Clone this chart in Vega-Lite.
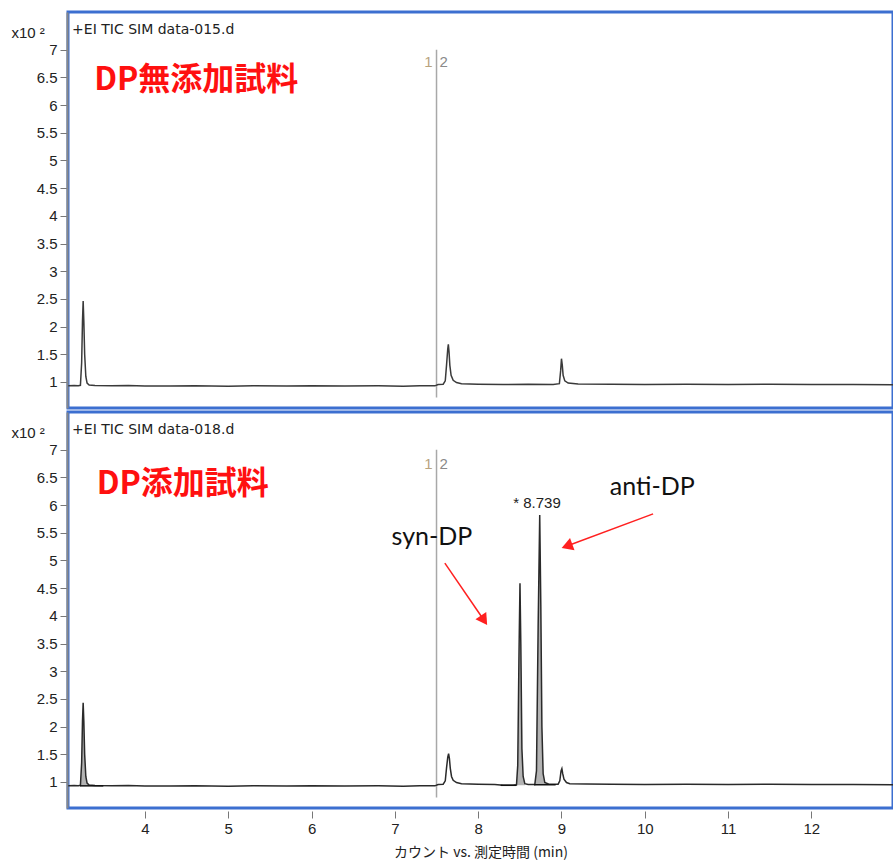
{
  "$schema": "https://vega.github.io/schema/vega-lite/v6.json",
  "padding": {"left": 9, "top": 10, "right": 0, "bottom": 0},
  "background": "white",
  "config": {
    "view": {"stroke": "#3c6fd0", "strokeWidth": 3},
    "font": "Liberation Sans",
    "axis": {"grid": false}
  },
  "datasets": {
    "topTrace": [
      {"t": 3.08, "v": 0.93}, {"t": 3.15, "v": 0.935}, {"t": 3.2, "v": 0.93}, {"t": 3.225, "v": 0.94},
      {"t": 3.24, "v": 1.35}, {"t": 3.25, "v": 2.1}, {"t": 3.258, "v": 2.46}, {"t": 3.266, "v": 2.1},
      {"t": 3.276, "v": 1.5}, {"t": 3.29, "v": 1.1}, {"t": 3.305, "v": 0.98}, {"t": 3.33, "v": 0.945},
      {"t": 3.4, "v": 0.935}, {"t": 3.6, "v": 0.93}, {"t": 3.8, "v": 0.937}, {"t": 4.0, "v": 0.928},
      {"t": 4.3, "v": 0.925}, {"t": 4.6, "v": 0.932}, {"t": 5.0, "v": 0.924}, {"t": 5.3, "v": 0.93},
      {"t": 5.7, "v": 0.925}, {"t": 6.0, "v": 0.932}, {"t": 6.4, "v": 0.925}, {"t": 6.8, "v": 0.93},
      {"t": 7.1, "v": 0.924}, {"t": 7.3, "v": 0.93}, {"t": 7.48, "v": 0.93}, {"t": 7.52, "v": 0.955},
      {"t": 7.58, "v": 0.96}, {"t": 7.605, "v": 1.02}, {"t": 7.62, "v": 1.3}, {"t": 7.635, "v": 1.6},
      {"t": 7.642, "v": 1.68}, {"t": 7.65, "v": 1.55}, {"t": 7.66, "v": 1.3}, {"t": 7.675, "v": 1.12},
      {"t": 7.7, "v": 1.03}, {"t": 7.74, "v": 0.99}, {"t": 7.8, "v": 0.97}, {"t": 8.0, "v": 0.96},
      {"t": 8.3, "v": 0.953}, {"t": 8.6, "v": 0.96}, {"t": 8.9, "v": 0.955}, {"t": 8.975, "v": 0.97},
      {"t": 8.99, "v": 1.2}, {"t": 9.0, "v": 1.42}, {"t": 9.01, "v": 1.3}, {"t": 9.02, "v": 1.12},
      {"t": 9.04, "v": 1.02}, {"t": 9.08, "v": 0.98}, {"t": 9.2, "v": 0.965}, {"t": 9.6, "v": 0.96},
      {"t": 10.0, "v": 0.953}, {"t": 10.5, "v": 0.96}, {"t": 11.0, "v": 0.954}, {"t": 11.5, "v": 0.96},
      {"t": 12.0, "v": 0.955}, {"t": 12.5, "v": 0.953}, {"t": 12.98, "v": 0.95}
    ],
    "bottomTrace": [
      {"t": 3.08, "v": 0.93}, {"t": 3.15, "v": 0.935}, {"t": 3.2, "v": 0.93}, {"t": 3.225, "v": 0.94},
      {"t": 3.24, "v": 1.35}, {"t": 3.25, "v": 2.1}, {"t": 3.258, "v": 2.43}, {"t": 3.266, "v": 2.1},
      {"t": 3.276, "v": 1.5}, {"t": 3.29, "v": 1.1}, {"t": 3.305, "v": 0.98}, {"t": 3.33, "v": 0.945},
      {"t": 3.4, "v": 0.935}, {"t": 3.6, "v": 0.93}, {"t": 3.8, "v": 0.936}, {"t": 4.0, "v": 0.928},
      {"t": 4.3, "v": 0.925}, {"t": 4.6, "v": 0.932}, {"t": 5.0, "v": 0.924}, {"t": 5.3, "v": 0.93},
      {"t": 5.7, "v": 0.925}, {"t": 6.0, "v": 0.932}, {"t": 6.4, "v": 0.925}, {"t": 6.8, "v": 0.93},
      {"t": 7.1, "v": 0.924}, {"t": 7.3, "v": 0.93}, {"t": 7.48, "v": 0.93}, {"t": 7.52, "v": 0.955},
      {"t": 7.58, "v": 0.96}, {"t": 7.605, "v": 1.02}, {"t": 7.62, "v": 1.25}, {"t": 7.635, "v": 1.45},
      {"t": 7.645, "v": 1.51}, {"t": 7.655, "v": 1.42}, {"t": 7.665, "v": 1.25}, {"t": 7.68, "v": 1.1},
      {"t": 7.7, "v": 1.03}, {"t": 7.74, "v": 0.99}, {"t": 7.8, "v": 0.97}, {"t": 8.0, "v": 0.96},
      {"t": 8.2, "v": 0.955}, {"t": 8.3, "v": 0.94}, {"t": 8.42, "v": 0.94}, {"t": 8.46, "v": 0.95},
      {"t": 8.475, "v": 1.3}, {"t": 8.49, "v": 3.3}, {"t": 8.502, "v": 4.59}, {"t": 8.512, "v": 3.5},
      {"t": 8.525, "v": 1.6}, {"t": 8.54, "v": 1.1}, {"t": 8.56, "v": 0.97}, {"t": 8.6, "v": 0.955},
      {"t": 8.68, "v": 0.955}, {"t": 8.7, "v": 1.2}, {"t": 8.72, "v": 3.8}, {"t": 8.739, "v": 5.82},
      {"t": 8.752, "v": 4.2}, {"t": 8.765, "v": 2.0}, {"t": 8.78, "v": 1.15}, {"t": 8.8, "v": 0.99},
      {"t": 8.85, "v": 0.96}, {"t": 8.96, "v": 0.96}, {"t": 8.98, "v": 1.02}, {"t": 8.995, "v": 1.2},
      {"t": 9.005, "v": 1.24}, {"t": 9.015, "v": 1.15}, {"t": 9.03, "v": 1.05}, {"t": 9.06, "v": 0.99},
      {"t": 9.1, "v": 0.97}, {"t": 9.3, "v": 0.962}, {"t": 9.6, "v": 0.958}, {"t": 10.0, "v": 0.953},
      {"t": 10.5, "v": 0.96}, {"t": 11.0, "v": 0.954}, {"t": 11.5, "v": 0.96}, {"t": 12.0, "v": 0.955},
      {"t": 12.5, "v": 0.953}, {"t": 12.98, "v": 0.95}
    ],
    "fills": [
      {"peak": "a", "t": 3.225, "v": 0.94, "b": 0.93}, {"peak": "a", "t": 3.24, "v": 1.35, "b": 0.93},
      {"peak": "a", "t": 3.25, "v": 2.1, "b": 0.93}, {"peak": "a", "t": 3.258, "v": 2.43, "b": 0.93},
      {"peak": "a", "t": 3.266, "v": 2.1, "b": 0.93}, {"peak": "a", "t": 3.276, "v": 1.5, "b": 0.93},
      {"peak": "a", "t": 3.29, "v": 1.1, "b": 0.93}, {"peak": "a", "t": 3.305, "v": 0.98, "b": 0.93},
      {"peak": "a", "t": 3.33, "v": 0.945, "b": 0.93},
      {"peak": "b", "t": 8.46, "v": 0.95, "b": 0.94}, {"peak": "b", "t": 8.475, "v": 1.3, "b": 0.94},
      {"peak": "b", "t": 8.49, "v": 3.3, "b": 0.94}, {"peak": "b", "t": 8.502, "v": 4.59, "b": 0.94},
      {"peak": "b", "t": 8.512, "v": 3.5, "b": 0.94}, {"peak": "b", "t": 8.525, "v": 1.6, "b": 0.94},
      {"peak": "b", "t": 8.54, "v": 1.1, "b": 0.94}, {"peak": "b", "t": 8.56, "v": 0.97, "b": 0.94},
      {"peak": "c", "t": 8.68, "v": 0.955, "b": 0.95}, {"peak": "c", "t": 8.7, "v": 1.2, "b": 0.95},
      {"peak": "c", "t": 8.72, "v": 3.8, "b": 0.95}, {"peak": "c", "t": 8.739, "v": 5.82, "b": 0.95},
      {"peak": "c", "t": 8.752, "v": 4.2, "b": 0.95}, {"peak": "c", "t": 8.765, "v": 2.0, "b": 0.95},
      {"peak": "c", "t": 8.78, "v": 1.15, "b": 0.95}, {"peak": "c", "t": 8.8, "v": 0.99, "b": 0.95},
      {"peak": "c", "t": 8.85, "v": 0.96, "b": 0.95}
    ],
    "baselines": [
      {"t": 3.22, "t2": 3.5, "v": 0.93, "v2": 0.93},
      {"t": 8.27, "t2": 8.46, "v": 0.94, "v2": 0.94},
      {"t": 8.67, "t2": 8.93, "v": 0.95, "v2": 0.95}
    ],
    "marker": [{"t": 7.5, "v": 0.72, "v2": 7.0}]
  },
  "spacing": 4,
  "bounds": "flush",
  "vconcat": [
    {
      "width": 825,
      "height": 396,
      "encoding": {
        "x": {"field": "t", "type": "quantitative", "scale": {"domain": [3.076, 12.98], "nice": false, "zero": false}, "axis": null},
        "y": {"field": "v", "type": "quantitative", "scale": {"domain": [0.53, 7.68], "nice": false, "zero": false},
          "axis": {"values": [1, 1.5, 2, 2.5, 3, 3.5, 4, 4.5, 5, 5.5, 6, 6.5, 7], "format": "~g", "title": "x10 ²",
            "titleAngle": 0, "titleAlign": "left", "titleBaseline": "alphabetic", "titleX": -56, "titleY": 25,
            "titleFontSize": 15, "titleFontWeight": "normal", "titleColor": "#222", "labelFontSize": 15, "labelColor": "#222",
            "tickSize": 7, "tickColor": "#777", "domainColor": "#888", "domainWidth": 2, "offset": 1, "labelPadding": 3}}
      },
      "layer": [
        {"data": {"name": "marker"}, "mark": {"type": "rule", "color": "#a8a8a8", "strokeWidth": 1.5}, "encoding": {"y2": {"field": "v2"}}},
        {"data": {"name": "topTrace"}, "mark": {"type": "line", "color": "#3a3a3a", "strokeWidth": 1.5}, "encoding": {}},
        {"data": {"values": [{"label": "+EI TIC SIM data-015.d", "t": 3.125, "v": 7.36}]}, "mark": {"type": "text", "align": "left", "baseline": "middle", "fontSize": 14, "font": "DejaVu Sans", "color": "#222"}, "encoding": {"text": {"field": "label"}}},
        {"data": {"values": [{"label": "DP無添加試料", "t": 3.39, "v": 6.46}]}, "mark": {"type": "text", "align": "left", "baseline": "middle", "fontSize": 32, "fontWeight": "bold", "font": "Noto Sans CJK JP", "color": "#ff1010"}, "encoding": {"text": {"field": "label"}}},
        {"data": {"values": [{"label": "1", "t": 7.5, "v": 6.78}]}, "mark": {"type": "text", "align": "right", "baseline": "middle", "dx": -4, "fontSize": 15, "color": "#b9a47e"}, "encoding": {"text": {"field": "label"}}},
        {"data": {"values": [{"label": "2", "t": 7.5, "v": 6.78}]}, "mark": {"type": "text", "align": "left", "baseline": "middle", "dx": 3, "fontSize": 15, "color": "#8a8a8a"}, "encoding": {"text": {"field": "label"}}}
      ]
    },
    {
      "width": 825,
      "height": 396,
      "encoding": {
        "x": {"field": "t", "type": "quantitative", "scale": {"domain": [3.076, 12.98], "nice": false, "zero": false},
          "axis": {"values": [4, 5, 6, 7, 8, 9, 10, 11, 12], "title": "カウント vs. 測定時間 (min)", "titleFont": "Noto Sans CJK JP",
            "titleFontSize": 14, "titleFontWeight": "normal", "titleColor": "#222", "labelFontSize": 15, "labelColor": "#222",
            "tickSize": 7, "tickColor": "#777", "domain": false, "offset": 3, "labelPadding": 3, "titlePadding": 9}},
        "y": {"field": "v", "type": "quantitative", "scale": {"domain": [0.53, 7.68], "nice": false, "zero": false},
          "axis": {"values": [1, 1.5, 2, 2.5, 3, 3.5, 4, 4.5, 5, 5.5, 6, 6.5, 7], "format": "~g", "title": "x10 ²",
            "titleAngle": 0, "titleAlign": "left", "titleBaseline": "alphabetic", "titleX": -56, "titleY": 25,
            "titleFontSize": 15, "titleFontWeight": "normal", "titleColor": "#222", "labelFontSize": 15, "labelColor": "#222",
            "tickSize": 7, "tickColor": "#777", "domainColor": "#888", "domainWidth": 2, "offset": 1, "labelPadding": 3}}
      },
      "layer": [
        {"data": {"name": "marker"}, "mark": {"type": "rule", "color": "#a8a8a8", "strokeWidth": 1.5}, "encoding": {"y2": {"field": "v2"}}},
        {"data": {"name": "fills"}, "mark": {"type": "area", "color": "#a0a0a0", "opacity": 0.8}, "encoding": {"y2": {"field": "b"}, "detail": {"field": "peak"}}},
        {"data": {"name": "bottomTrace"}, "mark": {"type": "line", "color": "#2a2a2a", "strokeWidth": 1.5}, "encoding": {}},
        {"data": {"name": "baselines"}, "mark": {"type": "rule", "color": "#111", "strokeWidth": 1.5}, "encoding": {"x2": {"field": "t2"}, "y2": {"field": "v2"}}},
        {"data": {"values": [{"label": "+EI TIC SIM data-018.d", "t": 3.125, "v": 7.36}]}, "mark": {"type": "text", "align": "left", "baseline": "middle", "fontSize": 14, "font": "DejaVu Sans", "color": "#222"}, "encoding": {"text": {"field": "label"}}},
        {"data": {"values": [{"label": "DP添加試料", "t": 3.42, "v": 6.38}]}, "mark": {"type": "text", "align": "left", "baseline": "middle", "fontSize": 32, "fontWeight": "bold", "font": "Noto Sans CJK JP", "color": "#ff1010"}, "encoding": {"text": {"field": "label"}}},
        {"data": {"values": [{"label": "1", "t": 7.5, "v": 6.74}]}, "mark": {"type": "text", "align": "right", "baseline": "middle", "dx": -4, "fontSize": 15, "color": "#b9a47e"}, "encoding": {"text": {"field": "label"}}},
        {"data": {"values": [{"label": "2", "t": 7.5, "v": 6.74}]}, "mark": {"type": "text", "align": "left", "baseline": "middle", "dx": 3, "fontSize": 15, "color": "#8a8a8a"}, "encoding": {"text": {"field": "label"}}},
        {"data": {"values": [{"label": "* 8.739", "t": 8.706, "v": 6.04}]}, "mark": {"type": "text", "align": "center", "baseline": "middle", "fontSize": 15, "color": "#222"}, "encoding": {"text": {"field": "label"}}},
        {"data": {"values": [{"label": "syn-DP", "t": 7.445, "v": 5.42}, {"label": "anti-DP", "t": 10.09, "v": 6.33}]}, "mark": {"type": "text", "align": "center", "baseline": "middle", "fontSize": 25, "font": "Lato", "color": "#111"}, "encoding": {"text": {"field": "label"}}},
        {"data": {"values": [{"t": 7.6, "v": 4.95, "t2": 8.07, "v2": 3.92}, {"t": 10.1, "v": 5.84, "t2": 9.066, "v2": 5.26}]}, "mark": {"type": "rule", "color": "#ff2020", "strokeWidth": 1.5}, "encoding": {"x2": {"field": "t2"}, "y2": {"field": "v2"}}},
        {"data": {"values": [{"t": 8.07, "v": 3.92}]}, "mark": {"type": "point", "shape": "triangle-up", "filled": true, "size": 170, "color": "#ff2020", "opacity": 1, "angle": 146}, "encoding": {}},
        {"data": {"values": [{"t": 9.066, "v": 5.26}]}, "mark": {"type": "point", "shape": "triangle-up", "filled": true, "size": 170, "color": "#ff2020", "opacity": 1, "angle": 250}, "encoding": {}}
      ]
    }
  ]
}
